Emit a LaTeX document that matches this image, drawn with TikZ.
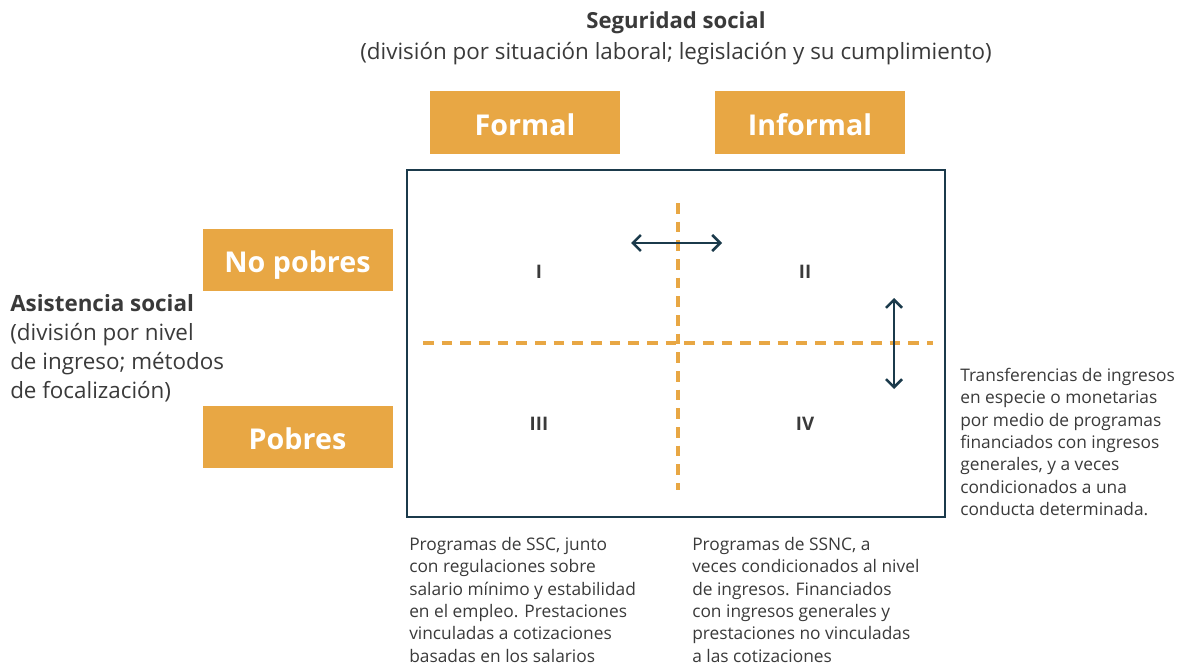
\documentclass[tikz,border=0pt]{standalone}
\usepackage{fontspec}
\setmainfont{Open Sans}
\usetikzlibrary{arrows.meta}
\definecolor{orng}{HTML}{E8A744}
\definecolor{navy}{HTML}{1B3A4B}
\definecolor{txt}{HTML}{3A3A3A}
\tikzset{
  lab/.style={fill=orng, text=white, font=\fontsize{21.5}{25}\selectfont\bfseries, minimum width=142.5pt, minimum height=47pt, inner sep=0pt, text height=19pt, text depth=0pt},
  body/.style={text=txt, font=\fontsize{13}{16.75}\selectfont, align=left, inner sep=0pt, anchor=north west},
  roman/.style={text=txt, font=\fontsize{14}{16}\selectfont\bfseries},
  dsh/.style={orng, line width=2.3pt, dash pattern=on 8pt off 6pt},
  dbl/.style={navy, line width=1.9pt, {Straight Barb[length=6pt,width=12pt,line width=1.9pt]}-{Straight Barb[length=6pt,width=12pt,line width=1.9pt]}}
}
\begin{document}
\begin{tikzpicture}[x=0.75pt,y=-0.75pt]
\useasboundingbox (0,0) rectangle (1182,664);
% titles
\node[text=txt, font=\fontsize{16.6}{19}\selectfont\bfseries] (t1) at (676,23) {Seguridad social};
\node[text=txt, font=\fontsize{16.8}{19}\selectfont] (t2) at (676,54) {(división por situación laboral; legislación y su cumplimiento)};
% column labels
\node[lab] (formal) at (525,122.5) {Formal};
\node[lab] (informal) at (810,122.5) {Informal};
% row labels
\node[lab] (nopobres) at (297.5,260) {No pobres};
\node[lab] (pobres) at (297.5,437) {Pobres};
% frame
\node[draw=navy, line width=1.9pt, minimum width=403.5pt, minimum height=260pt, inner sep=0pt] (frame) at (676,343.5) {};
% dashed
\coordinate (vt) at (678,203);
\coordinate (vb) at (678,490);
\coordinate (hl) at (423,343);
\coordinate (hr) at (933,343);
\draw[dsh] (vt) -- (vb);
\draw[dsh] (hl) -- (hr);
% arrows
\coordinate (al) at (631,243);
\coordinate (ar) at (722,243);
\coordinate (au) at (894,298);
\coordinate (ad) at (894,389);
\draw[dbl] (al) -- (ar);
\draw[dbl] (au) -- (ad);
% roman
\node[roman] (q1) at (539,272) {I};
\node[roman] (q2) at (805,272) {II};
\node[roman] (q3) at (539,424) {III};
\node[roman] (q4) at (805,424) {IV};
% left text
\node[body, font=\fontsize{16.8}{21.75}\selectfont] (left) at (10,294) {\textbf{Asistencia social}\\(división por nivel\\de ingreso; métodos\\de focalización)};
% right text
\node[body] (right) at (960,368) {Transferencias de ingresos\\en especie o monetarias\\por medio de programas\\financiados con ingresos\\generales, y a veces\\condicionados a una\\conducta determinada.};
% bottom texts
\node[body] (bl) at (409,537) {Programas de SSC, junto\\con regulaciones sobre\\salario mínimo y estabilidad\\en el empleo. Prestaciones\\vinculadas a cotizaciones\\basadas en los salarios};
\node[body] (br) at (692,537) {Programas de SSNC, a\\veces condicionados al nivel\\de ingresos. Financiados\\con ingresos generales y\\prestaciones no vinculadas\\a las cotizaciones};
\end{tikzpicture}
\end{document}
